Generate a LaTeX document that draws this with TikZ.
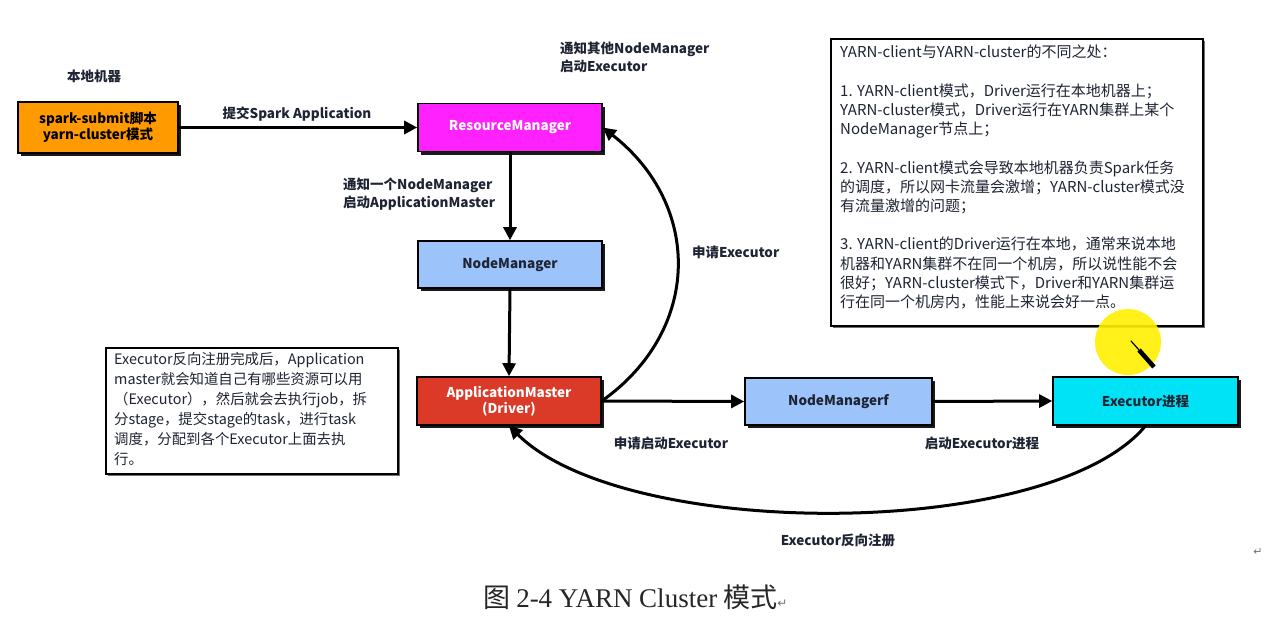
\documentclass[tikz,border=0pt]{standalone}
\usepackage{fontspec}
\setmainfont{Noto Sans CJK SC}
\newfontfamily\capserif{Liberation Serif}
\newfontfamily\symfont{DejaVu Sans}
\usetikzlibrary{arrows.meta,shadows}
\definecolor{orangebox}{HTML}{FF9A00}
\definecolor{magentabox}{HTML}{FF22FF}
\definecolor{bluebox}{HTML}{9CC3FA}
\definecolor{redbox}{HTML}{DB3A28}
\definecolor{cyanbox}{HTML}{00E2F6}
\definecolor{darktext}{HTML}{1E2433}
\definecolor{hilite}{HTML}{FFF000}
\tikzset{
  box/.style={draw=black, line width=1.6pt, minimum width=184pt, minimum height=48pt,
    inner sep=0pt, align=center, font=\fontsize{13.5}{16}\selectfont\bfseries,
    drop shadow={shadow xshift=3pt, shadow yshift=-3pt, fill=black, opacity=0.9}},
  conn/.style={line width=3pt, -{Triangle[length=13pt,width=13pt]}},
  lbl/.style={font=\fontsize{13.5}{18}\selectfont\bfseries, text=darktext, inner sep=0pt},
  notebox/.style={draw=black, fill=white, line width=1.6pt, inner sep=0pt, anchor=north west,
    drop shadow={shadow xshift=2pt, shadow yshift=-2pt, fill=black!70, opacity=0.8}},
  notetext/.style={anchor=north west, inner sep=0pt, align=left, text=darktext}
}
\begin{document}
\begin{tikzpicture}[x=1pt,y=-1pt]
\fill[white] (0,0) rectangle (1266,618);
\useasboundingbox (0,0) rectangle (1266,618);

% boxes
\node[box, fill=orangebox, minimum width=160pt, minimum height=51pt] (spark) at (98,127.5) {spark-submit脚本\\yarn-cluster模式};
\node[box, fill=magentabox, text=white] (rm) at (510,127.5) {ResourceManager};
\node[box, fill=bluebox, text=darktext, minimum height=47pt] (nm) at (510,264.5) {NodeManager};
\node[box, fill=redbox, text=white] (am) at (509,401) {ApplicationMaster\\(Driver)};
\node[box, fill=bluebox, text=darktext, minimum width=187pt, minimum height=47pt] (nmf) at (838.5,401.5) {NodeManagerf};
\node[box, fill=cyanbox, text=darktext, minimum width=185pt] (exec) at (1145.5,401) {Executor进程};

% note boxes
\node[notebox, minimum width=372pt, minimum height=287pt] (diff) at (830,38) {};

% cursor highlight
\fill[hilite, opacity=0.9] (1128,342) circle (33);

\node[notetext, font=\fontsize{15}{19.2}\selectfont] (difftext) at (840,45) {YARN-client与YARN-cluster的不同之处：\\[19.2pt]
1. YARN-client模式，Driver运行在本地机器上；\\
YARN-cluster模式，Driver运行在YARN集群上某个\\
NodeManager节点上；\\[19.2pt]
2. YARN-client模式会导致本地机器负责Spark任务\\
的调度，所以网卡流量会激增；YARN-cluster模式没\\
有流量激增的问题；\\[19.2pt]
3. YARN-client的Driver运行在本地，通常来说本地\\
机器和YARN集群不在同一个机房，所以说性能不会\\
很好；YARN-cluster模式下，Driver和YARN集群运\\
行在同一个机房内，性能上来说会好一点。};

\node[notebox, minimum width=292pt, minimum height=126pt] (amnote) at (105,347) {};
\node[notetext, font=\fontsize{14.4}{20}\selectfont] (amnotetext) at (114,352) {Executor反向注册完成后，Application\\
master就会知道自己有哪些资源可以用\\
（Executor），然后就会去执行job，拆\\
分stage，提交stage的task，进行task\\
调度，分配到各个Executor上面去执\\
行。};

% pen cursor
\coordinate (pentip) at (1131,341);
\coordinate (penmid) at (1139,350);
\coordinate (penend) at (1154,367);
\draw[line width=1.2pt, line cap=round] (pentip) -- (penmid);
\draw[line width=4.5pt] (penmid) -- (penend);

% connectors
\draw[conn] (spark.east) -- (rm.west);
\draw[conn] (rm.south) -- (nm.north);
\draw[conn] (nm.south) -- (am.north);
\draw[conn] (am.east) -- (nmf.west);
\draw[conn] (nmf.east) -- (exec.west);
\draw[conn] (am.east) .. controls (702,330) and (702,205) .. (rm.east);
\draw[conn] (exec.south) .. controls (1050,541) and (625,541) .. (am.south);

% labels
\node[lbl] (local) at (94,76) {本地机器};
\node[lbl] (submit) at (297,114) {提交Spark Application};
\node[lbl, anchor=west, align=left] (notifyother) at (560,57) {通知其他NodeManager\\启动Executor};
\node[lbl, anchor=west, align=left] (notifyone) at (343,194) {通知一个NodeManager\\启动ApplicationMaster};
\node[lbl, anchor=west] (apply) at (692,252) {申请Executor};
\node[lbl] (applystart) at (671,443) {申请启动Executor};
\node[lbl] (startexec) at (982,443) {启动Executor进程};
\node[lbl] (register) at (838,540) {Executor反向注册};

% caption
\node[anchor=west, inner sep=0pt, text=black!85, font=\fontsize{27}{29}\selectfont] (caption) at (483,597) {图 {\capserif 2-4 YARN Cluster} 模式{\symfont\fontsize{12}{12}\selectfont\color{black!55}↵}};
\node[inner sep=0pt, text=black!55, font=\symfont\fontsize{11}{11}\selectfont] (pmark) at (1258,552) {↵};
\end{tikzpicture}
\end{document}
